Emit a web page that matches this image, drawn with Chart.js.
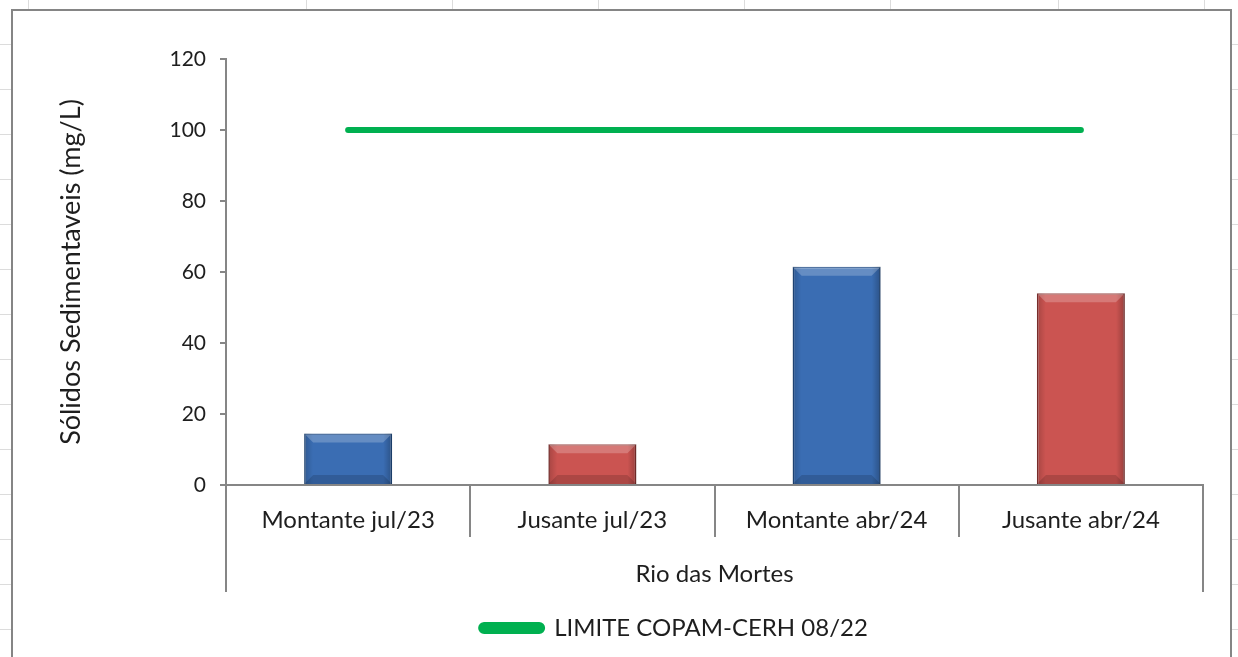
<!DOCTYPE html>
<html>
<head>
<meta charset="utf-8">
<script src="https://cdn.jsdelivr.net/npm/chart.js@4.4.1/dist/chart.umd.min.js"></script>
<style>
    html, body { margin: 0; padding: 0; }
    body {
        width: 1238px; height: 657px; overflow: hidden; position: relative;
        background-color: #fff;
        background-image: repeating-linear-gradient(to bottom, transparent 0, transparent 44px, #dcdcdc 44px, #dcdcdc 45px);
    }
    .vl { position: absolute; top: 0; width: 1px; height: 10px; background: #dcdcdc; }
    .box {
        position: absolute; left: 11px; top: 9px; width: 1217px; height: 660px;
        border: 2px solid #858585; background: #fff;
    }
    canvas { position: absolute; left: 0; top: 0; }
</style>
</head>
<body>
<div class="vl" style="left:28px"></div>
<div class="vl" style="left:306px"></div>
<div class="vl" style="left:452px"></div>
<div class="vl" style="left:598px"></div>
<div class="vl" style="left:744px"></div>
<div class="vl" style="left:890px"></div>
<div class="vl" style="left:1058px"></div>
<div class="vl" style="left:1204px"></div>
<div class="box"></div>
<canvas id="chart" width="1238" height="657"></canvas>
<script>
const categories = ['Montante jul/23', 'Jusante jul/23', 'Montante abr/24', 'Jusante abr/24'];
const solidos = [14.5, 11.5, 61.5, 54];
const limite = [100, 100, 100, 100];
const barColors = ['#3a6db3', '#cb5451', '#3a6db3', '#cb5451'];
const barBorders = ['#234f88', '#8f3432', '#234f88', '#8f3432'];

const FONT = 'Lato, "Open Sans", sans-serif';
const axisGray = '#868686';
const textColor = '#1e1e1e';

// outer lines of the group level under the category labels,
// plus a small bevel on the bars and the legend shift
const extras = {
    id: 'extras',
    afterLayout(chart) {
        const lg = chart.legend;
        lg.left += 48;
        lg.right += 48;
    },
    afterDatasetsDraw(chart) {
        const c = chart.ctx;
        const meta = chart.getDatasetMeta(1);
        meta.data.forEach((bar) => {
            const w = bar.width, l = bar.x - w / 2, r = bar.x + w / 2;
            const t = bar.y, b = bar.base;
            const bev = Math.min(9, (b - t) / 3);
            c.save();
            let g = c.createLinearGradient(l, 0, r, 0);
            g.addColorStop(0, 'rgba(0,0,0,0.18)');
            g.addColorStop(0.1, 'rgba(0,0,0,0)');
            g.addColorStop(0.9, 'rgba(0,0,0,0)');
            g.addColorStop(1, 'rgba(0,0,0,0.25)');
            c.fillStyle = g;
            c.fillRect(l, t, w, b - t);
            c.fillStyle = 'rgba(255,255,255,0.22)';
            c.beginPath();
            c.moveTo(l, t); c.lineTo(r, t); c.lineTo(r - bev, t + bev); c.lineTo(l + bev, t + bev);
            c.closePath(); c.fill();
            c.fillStyle = 'rgba(0,0,0,0.15)';
            c.beginPath();
            c.moveTo(l, b); c.lineTo(r, b); c.lineTo(r - bev, b - bev); c.lineTo(l + bev, b - bev);
            c.closePath(); c.fill();
            c.restore();
        });
    },
    afterDraw(chart) {
        const x = chart.scales.x;
        const c = chart.ctx;
        const y0 = chart.chartArea.bottom;
        c.save();
        c.strokeStyle = axisGray;
        c.lineWidth = 2;
        c.beginPath();
        c.moveTo(x.left, y0);
        c.lineTo(x.left, y0 + 107);
        c.moveTo(x.right, y0);
        c.lineTo(x.right, y0 + 107);
        c.stroke();
        c.restore();
    }
};

new Chart(document.getElementById('chart').getContext('2d'), {
    data: {
        labels: categories,
        datasets: [{
            type: 'line',
            label: 'LIMITE COPAM-CERH 08/22',
            data: limite,
            borderColor: '#00b050',
            backgroundColor: '#00b050',
            borderWidth: 6,
            borderCapStyle: 'round',
            pointRadius: 0,
            order: 0
        }, {
            type: 'bar',
            label: 'Sólidos',
            data: solidos,
            backgroundColor: barColors,
            borderColor: barBorders,
            borderWidth: 1.5,
            barPercentage: 0.36,
            categoryPercentage: 1,
            order: 1
        }]
    },
    options: {
        responsive: false,
        animation: false,
        layout: { padding: { left: 50, top: 59, right: 35, bottom: 7 } },
        scales: {
            x: {
                grid: { offset: true, drawOnChartArea: false, tickLength: 52, color: axisGray, lineWidth: 2 },
                border: { color: axisGray, width: 2 },
                ticks: { color: textColor, font: { family: FONT, size: 24 }, padding: -31 },
                title: { display: true, text: 'Rio das Mortes', color: textColor, font: { family: FONT, size: 24 }, padding: { top: 0, bottom: 17 } },
                afterFit: (s) => { s.height = 121; }
            },
            y: {
                min: 0,
                max: 120,
                ticks: { stepSize: 20, color: textColor, font: { family: FONT, size: 21 }, padding: 14 },
                grid: { drawOnChartArea: false, tickLength: 6, color: axisGray, lineWidth: 2 },
                border: { color: axisGray, width: 2 },
                title: { display: true, text: 'Sólidos Sedimentaveis (mg/L)', color: textColor, font: { family: FONT, size: 27 }, padding: { top: 5, bottom: 0 } },
                afterFit: (s) => { s.width = 176; }
            }
        },
        plugins: {
            legend: {
                position: 'bottom',
                labels: {
                    color: textColor,
                    font: { family: FONT, size: 24 },
                    boxWidth: 61,
                    boxHeight: 6,
                    useBorderRadius: true,
                    borderRadius: 3,
                    padding: 10,
                    filter: (item) => item.text !== 'Sólidos'
                }
            },
            tooltip: { enabled: false }
        }
    },
    plugins: [extras]
});
</script>
</body>
</html>
